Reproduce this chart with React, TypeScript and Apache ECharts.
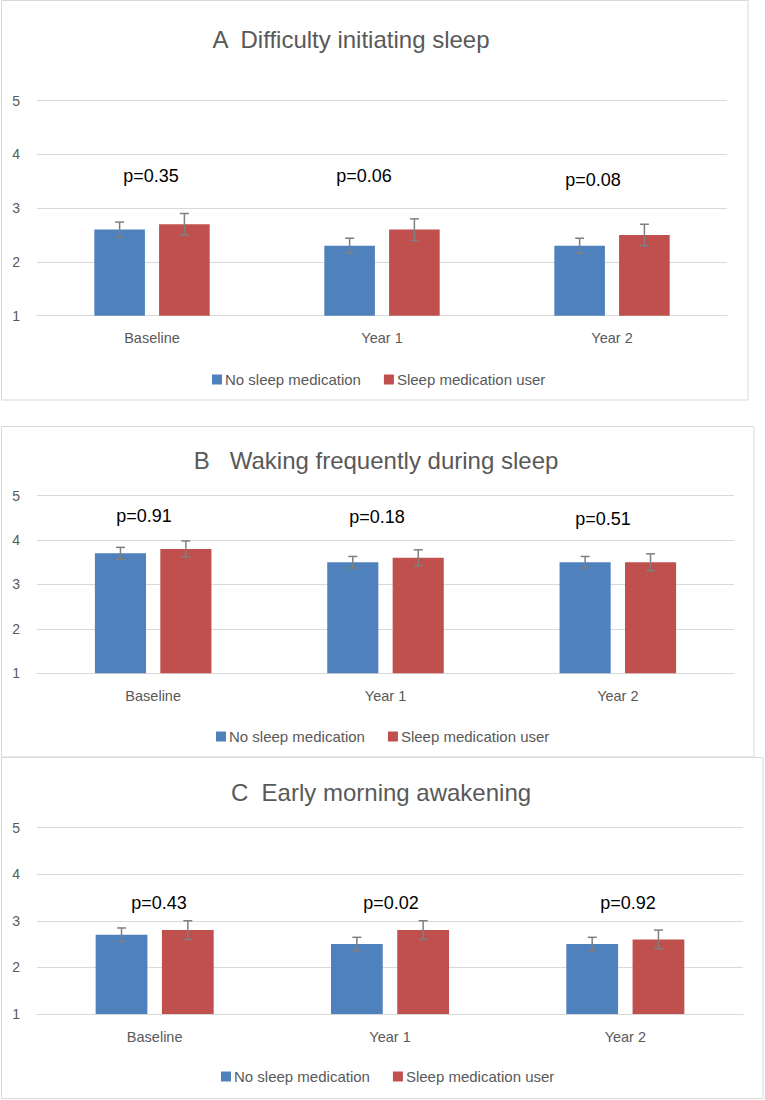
import React, { useEffect, useRef } from "react";
import * as echarts from "echarts";

const categories = ["Baseline", "Year 1", "Year 2"];
const seriesNames = ["No sleep medication", "Sleep medication user"];
const panelTitles = ["A  Difficulty initiating sleep", "B   Waking frequently during sleep", "C  Early morning awakening"];

const aNone = [2.6, 2.3, 2.3];
const aUser = [2.7, 2.6, 2.5];
const aNoneErr = [0.14, 0.14, 0.14];
const aUserErr = [0.2, 0.2, 0.2];
const aP = ["p=0.35", "p=0.06", "p=0.08"];

const bNone = [3.7, 3.5, 3.5];
const bUser = [3.8, 3.6, 3.5];
const bNoneErr = [0.135, 0.13, 0.13];
const bUserErr = [0.18, 0.18, 0.19];
const bP = ["p=0.91", "p=0.18", "p=0.51"];

const cNone = [2.7, 2.5, 2.5];
const cUser = [2.8, 2.8, 2.6];
const cNoneErr = [0.145, 0.145, 0.145];
const cUserErr = [0.2, 0.2, 0.2];
const cP = ["p=0.43", "p=0.02", "p=0.92"];

const yTicks = { min: 1, max: 5, interval: 1 };

const BLUE = "#4F81BD";
const RED = "#C0504D";
const GRID = "#D9D9D9";
const TXT = "#595959";
const FONT = "'Liberation Sans', Arial, sans-serif";

const panels = [
  { none: aNone, user: aUser, noneErr: aNoneErr, userErr: aUserErr, p: aP },
  { none: bNone, user: bUser, noneErr: bNoneErr, userErr: bUserErr, p: bP },
  { none: cNone, user: cUser, noneErr: cNoneErr, userErr: cUserErr, p: cP },
];

// layout (pixels)
const layout = [
  { box: [1.5, 0.5, 746.5, 399.5], grid: { left: 37, right: 38, top: 100.5, height: 215.2 }, titleX: 351, titleY: 39, legendLeft: 207, legendTop: 367, pPos: [[151, 176], [364, 176], [593, 180]] },
  { box: [1.5, 426.5, 752.5, 330.5], grid: { left: 37, right: 31, top: 495.6, height: 177.7 }, titleX: 376, titleY: 460, legendLeft: 211, legendTop: 724, pPos: [[144, 516], [377, 517], [603, 519]] },
  { box: [1.5, 757.5, 761.5, 341], grid: { left: 37, right: 22, top: 827.5, height: 186.5 }, titleX: 381, titleY: 792, legendLeft: 216, legendTop: 1064, pPos: [[159, 903], [391, 903], [628, 903]] },
];

const BAR_W = 0.22;
const BAR_GAP = 0.28;

function errorRender(side: number) {
  return (params: any, api: any) => {
    const cat = api.value(0);
    const lo = api.value(1);
    const hi = api.value(2);
    const band = api.size([1, 0])[0];
    const w = band * BAR_W;
    const g = w * BAR_GAP;
    const off = (side * (w + g)) / 2;
    const top = api.coord([cat, hi]);
    const bot = api.coord([cat, lo]);
    const x = top[0] + off;
    const style = { stroke: "#7F7F7F", lineWidth: 1.5 };
    const cap = 4.5;
    return {
      type: "group",
      children: [
        { type: "line", shape: { x1: x, y1: top[1], x2: x, y2: bot[1] }, style },
        { type: "line", shape: { x1: x - cap, y1: top[1], x2: x + cap, y2: top[1] }, style },
        { type: "line", shape: { x1: x - cap, y1: bot[1], x2: x + cap, y2: bot[1] }, style },
      ],
    };
  };
}

export default function App() {
  const ref = useRef<HTMLDivElement>(null);
  useEffect(() => {
    if (!ref.current) return;
    const chart = echarts.init(ref.current, null, { renderer: "svg" });

    const grids: any[] = [];
    const xAxes: any[] = [];
    const yAxes: any[] = [];
    const series: any[] = [];
    const legends: any[] = [];
    const graphics: any[] = [];

    panels.forEach((pn, i) => {
      const L = layout[i];
      grids.push({ ...L.grid, containLabel: false });
      xAxes.push({
        type: "category",
        gridIndex: i,
        data: categories,
        axisLine: { show: true, lineStyle: { color: GRID, width: 1 } },
        axisTick: { show: false },
        axisLabel: { color: TXT, fontSize: 14.5, fontFamily: FONT, margin: 15 },
      });
      yAxes.push({
        type: "value",
        gridIndex: i,
        min: yTicks.min,
        max: yTicks.max,
        interval: yTicks.interval,
        axisLine: { show: false },
        axisTick: { show: false },
        axisLabel: { color: TXT, fontSize: 14, fontFamily: FONT, margin: 17 },
        splitLine: { lineStyle: { color: GRID, width: 1 } },
      });
      series.push({
        name: seriesNames[0],
        type: "bar",
        xAxisIndex: i,
        yAxisIndex: i,
        data: pn.none,
        barWidth: BAR_W * 100 + "%",
        barGap: BAR_GAP * 100 + "%",
        itemStyle: { color: BLUE },
        z: 2,
      });
      series.push({
        name: seriesNames[1],
        type: "bar",
        xAxisIndex: i,
        yAxisIndex: i,
        data: pn.user,
        barWidth: BAR_W * 100 + "%",
        barGap: BAR_GAP * 100 + "%",
        itemStyle: { color: RED },
        z: 2,
      });
      series.push({
        name: "err-none-" + i,
        type: "custom",
        xAxisIndex: i,
        yAxisIndex: i,
        renderItem: errorRender(-1),
        encode: { x: 0, y: [1, 2] },
        data: pn.none.map((v, k) => [k, v - pn.noneErr[k], v + pn.noneErr[k]]),
        z: 5,
        silent: true,
      });
      series.push({
        name: "err-user-" + i,
        type: "custom",
        xAxisIndex: i,
        yAxisIndex: i,
        renderItem: errorRender(1),
        encode: { x: 0, y: [1, 2] },
        data: pn.user.map((v, k) => [k, v - pn.userErr[k], v + pn.userErr[k]]),
        z: 5,
        silent: true,
      });
      legends.push({
        data: seriesNames,
        left: L.legendLeft,
        top: L.legendTop,
        itemWidth: 10,
        itemHeight: 10,
        itemGap: 23,
        icon: "rect",
        textStyle: { color: TXT, fontSize: 15, fontFamily: FONT, padding: [0, 0, 0, -2] },
      });
      const [bx, by, bw, bh] = L.box;
      graphics.push({
        type: "rect",
        shape: { x: bx, y: by, width: bw, height: bh },
        style: { fill: "none", stroke: GRID, lineWidth: 1 },
        silent: true,
        z: -10,
      });
      graphics.push({
        type: "text",
        x: L.titleX,
        y: L.titleY,
        style: {
          text: panelTitles[i],
          fill: TXT,
          font: `24px ${FONT}`,
          textAlign: "center",
          textVerticalAlign: "middle",
        },
      });
      pn.p.forEach((t, k) => {
        graphics.push({
          type: "text",
          x: L.pPos[k][0],
          y: L.pPos[k][1],
          style: {
            text: t,
            fill: "#000000",
            font: `18px ${FONT}`,
            textAlign: "center",
            textVerticalAlign: "middle",
          },
        });
      });
    });

    chart.setOption({
      animation: false,
      backgroundColor: "#ffffff",
      grid: grids,
      xAxis: xAxes,
      yAxis: yAxes,
      series,
      legend: legends,
      graphic: graphics,
    });
    return () => chart.dispose();
  }, []);
  return (
    <div
      ref={ref}
      style={{ position: "absolute", left: 0, top: 0, width: 765, height: 1100 }}
    />
  );
}
